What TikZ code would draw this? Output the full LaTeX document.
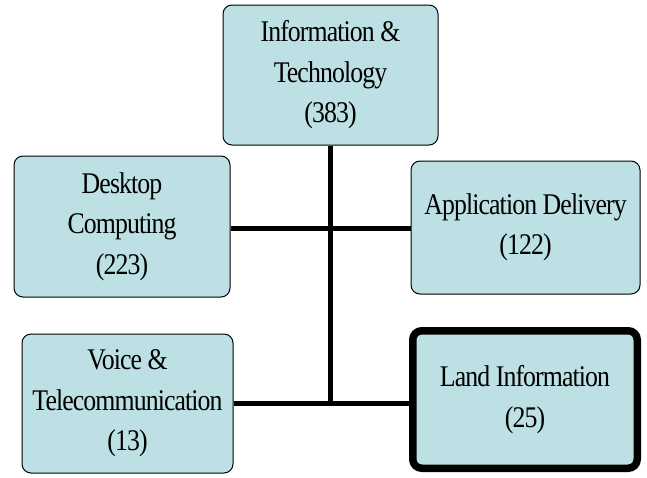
\documentclass[tikz,border=0pt]{standalone}
\usepackage{fontspec}
\setmainfont{Liberation Serif}[FakeStretch=0.86, LetterSpace=-3]
\definecolor{boxfill}{RGB}{188,224,227}
\begin{document}
\begin{tikzpicture}[x=1pt,y=-1pt,
  unit/.style={draw=black, line width=1pt, fill=boxfill, rounded corners=9pt,
    inner sep=0pt, align=center,
    font=\fontsize{30}{40.5}\selectfont},
  focus/.style={unit, line width=7.5pt},
  link/.style={draw=black, line width=5pt}]
\useasboundingbox (0,0) rectangle (647,477);

% organisation units
\node[unit, minimum width=215pt, minimum height=140pt] (it) at (330.5,75)
  {Information \&\\Technology\\(383)};
\node[unit, minimum width=216pt, minimum height=141pt] (desk) at (122,226.5)
  {Desktop\\Computing\\(223)};
\node[unit, minimum width=229pt, minimum height=133pt] (app) at (525.5,227.5)
  {Application Delivery\\(122)};
\node[unit, minimum width=211pt, minimum height=139pt] (voice) at (127.5,403.5)
  {Voice \&\\Telecommunication\\(13)};
\node[focus, minimum width=224.5pt, minimum height=137.5pt] (land) at (525,399.5)
  {Land Information\\(25)};

% junctions on the trunk
\coordinate (j1) at (330.5,228.5);
\coordinate (j2) at (330.5,403.5);

% reporting lines
\draw[link] (it.south) -- ([yshift=-2.5pt]j2);
\draw[link] (desk.east |- j1) -- (app.west |- j1);
\draw[link] (voice.east |- j2) -- (land.west |- j2);
\end{tikzpicture}
\end{document}
